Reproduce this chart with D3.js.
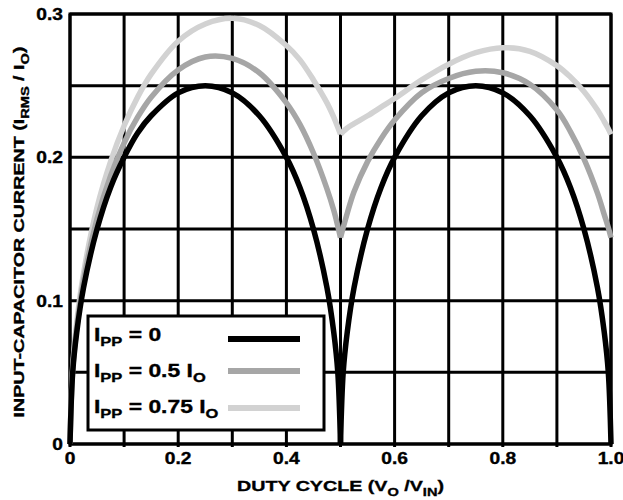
<!DOCTYPE html>
<html>
<head>
<meta charset="utf-8">
<script src="https://cdn.jsdelivr.net/npm/d3@7"></script>
<style>
body { margin: 0; background: #fff; }
text { font-family: "Liberation Sans", Arial, sans-serif; font-weight: bold; fill: #000; stroke: #000; stroke-width: 0.35px; }
</style>
</head>
<body>
<div id="chart"></div>
<script>
// duty cycle points
var duty = [0, 0.005, 0.0125, 0.025, 0.05, 0.075, 0.1, 0.125, 0.15, 0.2, 0.25, 0.3, 0.35, 0.4, 0.425, 0.45, 0.475, 0.4875, 0.495, 0.5,
            0.505, 0.5125, 0.525, 0.55, 0.575, 0.6, 0.65, 0.7, 0.75, 0.8, 0.85, 0.9, 0.925, 0.95, 0.975, 0.9875, 0.995, 1.0];
var ippZero = [0, 0.050, 0.078, 0.109, 0.150, 0.179, 0.200, 0.217, 0.229, 0.245, 0.250, 0.245, 0.229, 0.200, 0.179, 0.150, 0.109, 0.078, 0.050, 0,
               0.050, 0.078, 0.109, 0.150, 0.179, 0.200, 0.229, 0.245, 0.250, 0.245, 0.229, 0.200, 0.179, 0.150, 0.109, 0.078, 0.050, 0];
var ippHalf = [0, 0.052, 0.081, 0.114, 0.157, 0.187, 0.210, 0.228, 0.242, 0.261, 0.270, 0.269, 0.259, 0.238, 0.223, 0.203, 0.178, 0.163, 0.152, 0.144,
               0.151, 0.161, 0.176, 0.197, 0.213, 0.226, 0.245, 0.255, 0.260, 0.259, 0.251, 0.233, 0.218, 0.199, 0.175, 0.160, 0.151, 0.144];
var ippThreeQ = [0, 0.054, 0.085, 0.119, 0.165, 0.197, 0.222, 0.242, 0.258, 0.281, 0.293, 0.297, 0.292, 0.278, 0.268, 0.254, 0.238, 0.228, 0.221, 0.216,
                 0.218, 0.2205, 0.2235, 0.229, 0.235, 0.241, 0.254, 0.265, 0.273, 0.2765, 0.274, 0.264, 0.256, 0.246, 0.233, 0.225, 0.220, 0.216];
var xTickLabels = ['0', '0.2', '0.4', '0.6', '0.8', '1.0'];
var xTickValues = [0, 0.2, 0.4, 0.6, 0.8, 1.0];
var yTickLabels = ['0', '0.1', '0.2', '0.3'];
var yTickValues = [0, 0.1, 0.2, 0.3];
var legendNames = ['0', '0.5', '0.75'];

var W = 623, H = 500;
var margin = {top: 14, right: 12, bottom: 56, left: 70};
var w = W - margin.left - margin.right, h = H - margin.top - margin.bottom;
var stretch = 1.27;

var x = d3.scaleLinear().domain([0, 1]).range([0, w]);
var y = d3.scaleLinear().domain([0, 0.3]).range([h, 0]);

var svg = d3.select('#chart').append('svg')
    .attr('width', W)
    .attr('height', H)
    .append('g')
    .attr('transform', 'translate(' + margin.left + ',' + margin.top + ')');

// grid
svg.selectAll('.vgrid')
    .data(x.ticks(10))
    .enter()
    .append('line')
    .attr('x1', function(d){return x(d);})
    .attr('x2', function(d){return x(d);})
    .attr('y1', 0)
    .attr('y2', h + 3)
    .style('stroke', '#000')
    .style('stroke-width', 3);

svg.selectAll('.hgrid')
    .data(y.ticks(6))
    .enter()
    .append('line')
    .attr('x1', 0)
    .attr('x2', w)
    .attr('y1', function(d){return y(d);})
    .attr('y2', function(d){return y(d);})
    .style('stroke', '#000')
    .style('stroke-width', 3);

svg.append('rect')
    .attr('width', w)
    .attr('height', h)
    .style('fill', 'none')
    .style('stroke', '#000')
    .style('stroke-width', 3);

// tick labels
svg.selectAll('.xlab')
    .data(xTickValues)
    .enter()
    .append('text')
    .attr('transform', function(d){return 'translate(' + x(d) + ',' + (h + 20) + ') scale(1.2,1)';})
    .attr('text-anchor', 'middle')
    .style('font-size', '16px')
    .text(function(d,i){return xTickLabels[i];});

svg.selectAll('.ylab')
    .data(yTickValues)
    .enter()
    .append('text')
    .attr('transform', function(d){return 'translate(-7,' + (y(d) + 6) + ') scale(1.2,1)';})
    .attr('text-anchor', 'end')
    .style('font-size', '16px')
    .text(function(d,i){return yTickLabels[i];});

// axis titles
var xt = svg.append('text')
    .attr('transform', 'translate(' + (w / 2) + ',' + (h + 47) + ') scale(' + stretch + ',1)')
    .attr('text-anchor', 'middle')
    .style('font-size', '15.5px');
xt.append('tspan').text('DUTY CYCLE (V');
xt.append('tspan').attr('dy', 5).style('font-size', '11.5px').text('O');
xt.append('tspan').attr('dy', -5).text(' /V');
xt.append('tspan').attr('dy', 5).style('font-size', '11.5px').text('IN');
xt.append('tspan').attr('dy', -5).text(')');

var yt = svg.append('text')
    .attr('transform', 'translate(-46,' + (h / 2 + 3) + ') rotate(-90) scale(' + stretch + ',1)')
    .attr('text-anchor', 'middle')
    .style('font-size', '15.5px');
yt.append('tspan').text('INPUT-CAPACITOR CURRENT (I');
yt.append('tspan').attr('dy', 5).style('font-size', '11.5px').text('RMS');
yt.append('tspan').attr('dy', -5).text(' / I');
yt.append('tspan').attr('dy', 5).style('font-size', '11.5px').text('O');
yt.append('tspan').attr('dy', -5).text(')');

// curves, each hump drawn as its own path so the dip at 0.5 stays sharp
var series = [
    {name: legendNames[0], values: ippZero, color: '#000000'},
    {name: legendNames[1], values: ippHalf, color: '#a6a6a6'},
    {name: legendNames[2], values: ippThreeQ, color: '#d2d2d2'}
];

var line = d3.line()
    .x(function(d){return x(d[0]);})
    .y(function(d){return y(d[1]);})
    .curve(d3.curveCatmullRom.alpha(0.5));

series.slice().reverse().forEach(function(s) {
    var pts = duty.map(function(d, i){return [d, s.values[i]];});
    var left = pts.filter(function(p){return p[0] <= 0.5;});
    var right = pts.filter(function(p){return p[0] >= 0.5;});
    [left, right].forEach(function(seg) {
        svg.append('path')
            .attr('d', line(seg))
            .style('fill', 'none')
            .style('stroke', s.color)
            .style('stroke-width', 5.5);
    });
});

// legend
var legend = svg.append('g')
    .attr('transform', 'translate(' + (88 - margin.left) + ',' + (316 - margin.top) + ')');

legend.append('rect')
    .attr('width', 236)
    .attr('height', 114)
    .style('fill', '#fff')
    .style('stroke', '#000')
    .style('stroke-width', 3);

var rows = legend.selectAll('.legend')
    .data(series)
    .enter()
    .append('g')
    .attr('class', 'legend')
    .attr('transform', function(d,i){return 'translate(0,' + (i * 36) + ')';});

rows.append('line')
    .attr('x1', 140)
    .attr('x2', 212)
    .attr('y1', function(d,i){return [23, 19, 20][i];})
    .attr('y2', function(d,i){return [23, 19, 20][i];})
    .style('stroke', function(d){return d.color;})
    .style('stroke-width', 6);

rows.each(function(d) {
    var t = d3.select(this).append('text')
        .attr('transform', 'translate(6,25) scale(' + stretch + ',1)')
        .style('font-size', '18px');
    t.append('tspan').text('I');
    t.append('tspan').attr('dy', 5).style('font-size', '13px').text('PP');
    t.append('tspan').attr('dy', -5).text(' = ' + d.name);
    if (d.name !== '0') {
        t.append('tspan').text(' I');
        t.append('tspan').attr('dy', 5).style('font-size', '13px').text('O');
    }
});
</script>
</body>
</html>
